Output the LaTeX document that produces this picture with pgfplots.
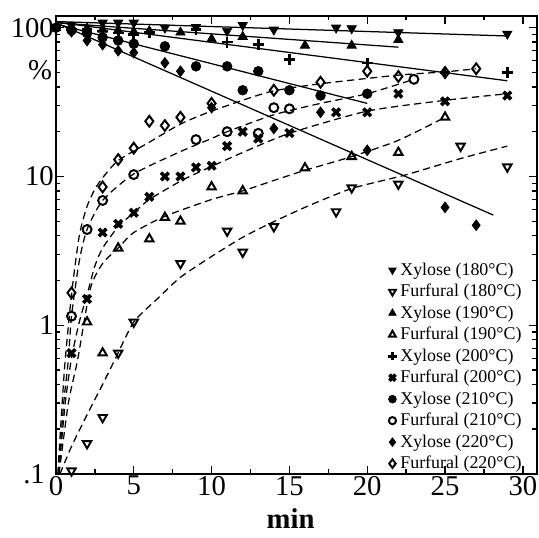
\documentclass[border=0pt]{standalone}
\usepackage{fontspec}
\setmainfont{Liberation Serif}
\usepackage{pgfplots}
\pgfplotsset{compat=1.18}
\begin{document}
\begin{tikzpicture}
\begin{axis}[
  scale only axis, width=268.3pt, height=255.5pt,
  xmin=0, xmax=30.9, ymin=0.1, ymax=120,
  ymode=log,
  axis line style={line width=1pt},
  tick align=inside,
  xtick={0,5,10,15,20,25,30}, xticklabels={0,5,10,15,20,25,30},
  minor xtick={2.5,7.5,12.5,17.5,22.5,27.5},
  ytick={0.1,1,10,100}, yticklabels={{.1\kern5pt},1,10,100},
  minor ytick={0.2,0.3,0.4,0.5,0.6,0.7,0.8,0.9,2,3,4,5,6,7,8,9,20,30,40,50,60,70,80,90},
  tick style={black, line width=0.8pt},
  major tick length=4.5pt, minor tick length=2.5pt,
  ticklabel style={font=\fontsize{16}{18}\selectfont},
  yticklabel style={inner sep=1pt, xshift=0pt},
  xticklabel style={inner sep=1pt},
  /pgf/number format/assume math mode=true,
  xlabel={\textbf{min}},
  xlabel style={font=\fontsize{16}{18}\selectfont, at={(axis description cs:0.488,0)}, anchor=center, yshift=-25pt},
  legend style={draw=none, fill=none, font=\fontsize{10}{12}\selectfont,
    at={(rel axis cs:0.69,0.47)}, anchor=north west, inner sep=0pt, row sep=-0.5pt},
  legend image post style={scale=0.8},
  legend cell align=left,
]
% fitted solid lines (xylose)
\addplot[forget plot, black, line width=0.7pt] coordinates {(0,110) (29,88)};
\addplot[forget plot, black, line width=0.7pt] coordinates {(0,108) (22,74)};
\addplot[forget plot, black, line width=0.7pt] coordinates {(0,109) (29,44)};
\addplot[forget plot, black, line width=0.7pt] coordinates {(0,106) (20,31)};
\addplot[forget plot, black, line width=0.7pt] coordinates {(0,108) (28.1,5.5)};
% fitted dashed curves (furfural)
\addplot[forget plot, black, line width=0.7pt, dash pattern=on 4pt off 2.5pt, smooth, tension=0.4] coordinates {
(0.26,0.1) (1,0.153) (2,0.25) (3,0.4) (3.8,0.59) (5,1.05) (6.5,1.5) (8,2.1) (10,2.9) (12,3.9) (13.7,4.8) (16,6.2) (19,8.3) (22.4,10.2) (26,13.2) (29,16)};
\addplot[forget plot, black, line width=0.7pt, dash pattern=on 4pt off 2.5pt, smooth, tension=0.4] coordinates {
(0.2,0.1) (0.8,0.3) (1.4,0.59) (2.2,1.75) (3,2.6) (4,3.3) (5,4.2) (7,5.4) (10,7) (12,8) (14,9.4) (16,11) (19,13.6) (22,17.5) (25,25)};
\addplot[forget plot, black, line width=0.7pt, dash pattern=on 4pt off 2.5pt, smooth, tension=0.4] coordinates {
(0.17,0.1) (0.6,0.3) (1,0.6) (1.5,1.05) (2,1.6) (2.5,2.5) (3,3.3) (4,4.6) (5,5.7) (6,7) (8,9.3) (9.2,10.7) (12,14.5) (15,19.5) (20,27.5) (25,32.5) (29,36)};
\addplot[forget plot, black, line width=0.7pt, dash pattern=on 4pt off 2.5pt, smooth, tension=0.4] coordinates {
(0.15,0.1) (0.5,0.3) (0.8,0.59) (1,1.15) (1.5,2.7) (2,4.4) (3,6.9) (5,10.4) (8,14.7) (10,18) (11,20) (14,26) (17,31) (20,36) (23,45)};
\addplot[forget plot, black, line width=0.7pt, dash pattern=on 4pt off 2.5pt, smooth, tension=0.4] coordinates {
(0.12,0.1) (0.4,0.3) (0.6,0.59) (1,1.6) (1.5,4.0) (2,6.3) (2.5,8.2) (3,9.8) (4,12.8) (6,17) (8,22.5) (10,27.5) (13.7,37) (17,42) (22,48) (25,50.5) (27,53)};
% data
\addplot[only marks, mark=triangle*, mark size=3pt, mark options={rotate=180, fill=black, draw=black}] coordinates {
(0,100) (1,104) (3,108) (4,108) (5,108) (7,100) (9,101) (11,95) (12,104) (14,97) (18,100) (19,99) (22,93) (29,91)};
\addlegendentry{Xylose (180°C)}
\addplot[only marks, mark=triangle, mark size=2.7pt, mark options={rotate=180, draw=black, line width=1.1pt}] coordinates {
(1,0.105) (2,0.16) (3,0.24) (4,0.65) (5,1.05) (8,2.6) (11,4.3) (12,3.1) (14,4.6) (18,5.8) (19,8.4) (22,8.9) (26,16) (29,11.6)};
\addlegendentry{Furfural (180°C)}
\addplot[only marks, mark=triangle*, mark size=3pt, mark options={fill=black, draw=black}] coordinates {
(0,100) (1,100) (2,99) (3,97) (4,96) (5,94) (6,95) (8,93) (10,84) (12,87) (16,76) (19,76) (22,83)};
\addlegendentry{Xylose (190°C)}
\addplot[only marks, mark=triangle, mark size=2.7pt, mark options={draw=black, line width=1.1pt}] coordinates {
(2,1.05) (3,0.65) (4,3.3) (6,3.8) (7,5.3) (8,5) (10,8.5) (12,8) (16,11.4) (19,13.6) (22,14.5) (25,25)};
\addlegendentry{Furfural (190°C)}
\addplot[only marks, mark=+, mark size=3pt, mark options={draw=black, line width=1.5pt}] coordinates {
(0,100) (1,98) (2,97) (3,95) (4,92) (5,90) (6,93) (9,97) (11,80) (13,77) (15,61) (20,58) (25,50) (29,50)};
\addlegendentry{Xylose (200°C)}
\addplot[only marks, mark=x, mark size=3pt, mark options={draw=black, line width=2pt}] coordinates {
(1,0.65) (2,1.5) (3,4.2) (4,4.8) (5,5.7) (6,7.3) (7,10) (8,10) (9,11.5) (10,11.8) (11,16) (12,20) (13,18) (15,19.6) (18,27) (20,27) (22,36) (25,32) (29,35)};
\addlegendentry{Furfural (200°C)}
\addplot[only marks, mark=*, mark size=2.7pt, mark options={fill=black, draw=black}] coordinates {
(0,100) (1,96) (2,92) (3,86) (4,82) (5,78) (7,75) (9,55) (11,55) (12,38) (13,51) (15,38) (17,35) (20,36)};
\addlegendentry{Xylose (210°C)}
\addplot[only marks, mark=o, mark size=2.5pt, mark options={draw=black, line width=1.1pt}] coordinates {
(1,1.15) (2,4.4) (3,6.9) (5,10.3) (9,17.7) (11,20) (13,19.5) (14,29) (15,28.5) (23,45)};
\addlegendentry{Furfural (210°C)}
\addplot[only marks, mark=diamond*, mark size=3pt, mark options={fill=black, draw=black}] coordinates {
(0,100) (1,94) (2,82) (3,77) (4,70) (5,68) (7,58) (8,51) (10,29) (14,21) (17,27) (20,15) (25,6.2) (27,4.7)};
\addlegendentry{Xylose (220°C)}
\addplot[only marks, mark=diamond, mark size=3pt, mark options={draw=black, line width=1.1pt}] coordinates {
(1,1.65) (3,8.5) (4,13) (5,15.5) (6,23.5) (7,22) (8,25) (10,31) (14,38) (17,43) (20,51) (22,47) (25,50) (27,53)};
\addlegendentry{Furfural (220°C)}
\end{axis}
\node[font=\fontsize{16}{18}\selectfont] at ([xshift=-8.9pt, yshift=-30pt]current axis.north west) {\%};
\path ([xshift=-31.2pt, yshift=-35.6pt]current axis.south west) rectangle ([xshift=0.6pt, yshift=8.9pt]current axis.north east);
\end{tikzpicture}
\end{document}
